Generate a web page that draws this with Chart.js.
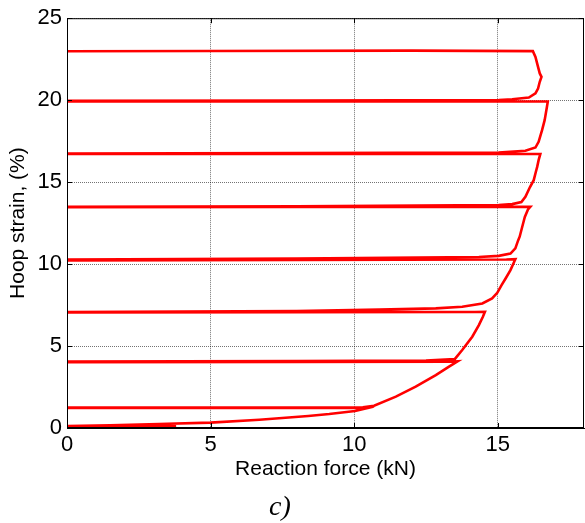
<!DOCTYPE html>
<html lang="en">
<head>
<meta charset="UTF-8">
<title>Hoop strain vs reaction force</title>
<script src="https://cdn.jsdelivr.net/npm/chart.js@4"></script>
<style>
  body { margin: 0; background: #fff; }
</style>
</head>
<body>
<canvas id="chart" width="585" height="523"></canvas>
<script>
// reaction force (kN) and hoop strain (%) in drawing order
// preload + first loading
const force = [0, 3.8, 0, 1.5, 3.2, 5, 6.7, 8.4, 9.13, 10.03, 10.69,
  // unload / reload, cycle 1
  10.4, 8, 0, 0, 8, 10.3, 10.69,
  11.45, 12.14, 12.84, 13.3, 13.6,
  // cycle 2
  13.3, 8, 0, 0, 8, 12.5, 13.5, 13.76, 14.11, 14.34, 14.48, 14.55,
  // cycle 3
  14.2, 8, 0, 0, 8, 10.87, 12.84, 13.76, 14.46, 14.8, 14.98, 15.13, 15.27, 15.44, 15.61,
  // cycle 4
  15.3, 8, 0, 0, 8, 14.34, 15.03, 15.44, 15.61, 15.71, 15.76, 15.85, 15.94, 16.05, 16.13,
  // cycle 5
  15.8, 8, 0, 0, 8, 15.03, 15.5, 15.82, 15.96, 16.12, 16.25, 16.32, 16.37, 16.42, 16.48,
  // cycle 6
  16.2, 8, 0, 0, 8, 15.03, 15.96, 16.31, 16.42, 16.54, 16.63, 16.71, 16.74,
  // cycle 7 and final unload
  16.4, 8, 0, 0, 8, 15.03, 15.5, 16.08, 16.31, 16.4, 16.46, 16.52, 16.46, 16.4, 16.31, 16.22,
  12, 5, 0];

const strain = [0.03, 0.1, 0.12, 0.17, 0.24, 0.33, 0.5, 0.73, 0.85, 1.04, 1.32,
  1.24, 1.23, 1.22, 1.24, 1.25, 1.27, 1.36,
  1.91, 2.52, 3.23, 3.74, 4.07,
  4.04, 4.03, 4.02, 4.05, 4.08, 4.12, 4.2, 4.76, 5.57, 6.28, 6.79, 7.09,
  7.08, 7.07, 7.05, 7.08, 7.14, 7.22, 7.3, 7.4, 7.6, 7.91, 8.25, 8.72, 9.12, 9.63, 10.3,
  10.28, 10.25, 10.22, 10.27, 10.33, 10.43, 10.5, 10.64, 10.96, 11.46, 11.67, 12.28, 12.88, 13.33, 13.49,
  13.49, 13.48, 13.47, 13.5, 13.53, 13.6, 13.66, 13.78, 14.1, 14.7, 15.12, 15.6, 15.93, 16.34, 16.72,
  16.72, 16.72, 16.72, 16.75, 16.77, 16.8, 16.91, 17.11, 17.46, 18.17, 18.78, 19.6, 19.92,
  19.92, 19.92, 19.92, 19.96, 19.98, 20.0, 20.06, 20.16, 20.41, 20.71, 21.12, 21.42, 21.63, 22.03, 22.64, 22.99,
  23.02, 23.0, 22.98];

const xTicks = [0, 5, 10, 15];
const yTicks = [0, 5, 10, 15, 20, 25];
const xLabel = 'Reaction force (kN)';
const yLabel = 'Hoop strain, (%)';
const caption = 'c)';

const tickFont = { family: 'Liberation Sans, Arial', size: 22 };
const titleFont = { family: 'Liberation Sans, Arial', size: 21 };

// box round the plot, inward ticks, and the panel letter
const frame = {
  id: 'frame',
  afterDraw(chart) {
    const { ctx, chartArea: a, scales: { x, y } } = chart;
    ctx.save();
    ctx.strokeStyle = '#000';
    ctx.lineWidth = 1;
    ctx.strokeRect(a.left + 0.5, a.top + 0.5, a.right - a.left - 1, a.bottom - a.top - 1);
    ctx.beginPath();
    xTicks.forEach(v => {
      const px = Math.round(x.getPixelForValue(v)) + 0.5;
      ctx.moveTo(px, a.bottom); ctx.lineTo(px, a.bottom - 5);
      ctx.moveTo(px, a.top); ctx.lineTo(px, a.top + 5);
    });
    yTicks.forEach(v => {
      const py = Math.round(y.getPixelForValue(v)) + 0.5;
      ctx.moveTo(a.left, py); ctx.lineTo(a.left + 5, py);
      ctx.moveTo(a.right, py); ctx.lineTo(a.right - 5, py);
    });
    ctx.stroke();
    ctx.fillStyle = '#000';
    ctx.font = 'italic 28px "Liberation Serif"';
    ctx.textAlign = 'center';
    ctx.textBaseline = 'alphabetic';
    ctx.fillText(caption, 280, 515);
    ctx.restore();
  }
};

new Chart(document.getElementById('chart'), {
  type: 'scatter',
  data: {
    datasets: [{
      data: force.map((f, i) => ({ x: f, y: strain[i] })),
      showLine: true,
      borderColor: '#ff0000',
      borderWidth: 2.6,
      pointRadius: 0,
      tension: 0,
      fill: false
    }]
  },
  options: {
    responsive: false,
    animation: false,
    layout: { padding: { top: 18, right: 1, bottom: 0, left: 0 } },
    plugins: { legend: { display: false }, tooltip: { enabled: false } },
    scales: {
      x: {
        type: 'linear',
        min: 0,
        max: 18,
        afterBuildTicks: s => { s.ticks = xTicks.map(v => ({ value: v })); },
        afterFit: s => { s.height = 95; },
        grid: { color: 'rgba(0,0,0,0.55)', drawTicks: false },
        border: { display: true, color: '#000', dash: [1, 1] },
        ticks: { font: tickFont, color: '#000', padding: 4, maxRotation: 0 },
        title: { display: true, text: xLabel, font: titleFont, color: '#000', padding: { top: 0, bottom: 41 } }
      },
      y: {
        min: 0,
        max: 25,
        afterBuildTicks: s => { s.ticks = yTicks.map(v => ({ value: v })); },
        afterFit: s => { s.width = 67; },
        grid: { color: 'rgba(0,0,0,0.55)', drawTicks: false },
        border: { display: true, color: '#000', dash: [1, 1] },
        ticks: { font: tickFont, color: '#000', padding: 5 },
        title: { display: true, text: yLabel, font: titleFont, color: '#000', padding: { top: 6, bottom: 0 } }
      }
    }
  },
  plugins: [frame]
});
</script>
</body>
</html>
